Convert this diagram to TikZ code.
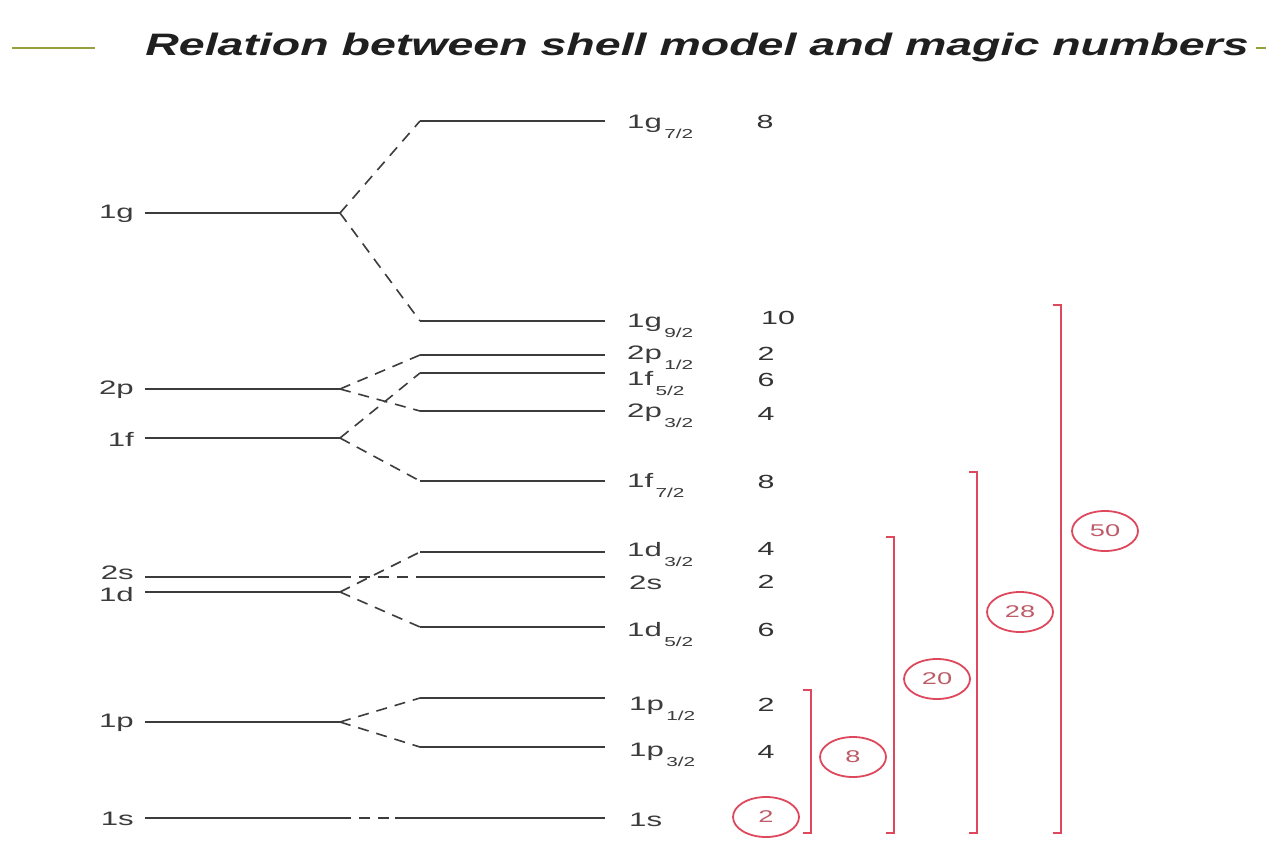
\documentclass[tikz,border=0pt]{standalone}
\usepackage{fontspec}
\setmainfont{Liberation Sans}
\usetikzlibrary{shapes.geometric}
\definecolor{lvl}{RGB}{60,60,60}
\definecolor{mag}{RGB}{222,72,92}
\definecolor{olv}{RGB}{150,160,60}
\newcommand{\wide}[1]{\scalebox{1.6}[1]{#1}}
\newcommand{\sublab}[2]{\wide{#1\hspace{1.5pt}\raisebox{-10pt}{\fontsize{13}{13}\selectfont #2}}}
\begin{document}
\begin{tikzpicture}[x=1pt,y=-1pt,
  level/.style={draw=lvl,line width=1.8pt},
  split/.style={draw=lvl,line width=1.6pt,dash pattern=on 11pt off 8pt},
  lab/.style={font=\fontsize{19.5}{19.5}\selectfont,text=lvl,inner sep=0pt},
  deg/.style={font=\fontsize{19}{19}\selectfont,text=black!80,inner sep=0pt},
  brk/.style={draw=mag,line width=2pt},
  magic/.style={draw=mag,line width=1.8pt,ellipse,minimum width=66pt,minimum height=40pt,inner sep=0pt,text=mag!65!gray,font=\fontsize{17}{17}\selectfont}]
\useasboundingbox (0,0) rectangle (1266,841);
\fill[white] (0,0) rectangle (1266,841);
% title
\node[inner sep=0pt,anchor=base,font=\fontsize{31}{31}\bfseries\itshape\selectfont,text=black!88] (title) at (697,55) {\scalebox{1.5}[1]{Relation between shell model and magic numbers}};
\coordinate (ga) at (12,48); \coordinate (gb) at (95,48);
\draw[olv,line width=2pt] (ga) -- (gb);
\coordinate (gc) at (1256,48); \coordinate (gd) at (1266,48);
\draw[olv,line width=2pt] (gc) -- (gd);
% left levels
\foreach \n/\y in {1g/213,2p/389,1f/438,2s/577,1d/592,1p/722,1s/818}{
  \coordinate (L\n a) at (145,\y);
  \coordinate (L\n b) at (340,\y);
  \draw[level] (L\n a) -- (L\n b);
}
\node[lab,anchor=east] (t1g) at (134,214) {\wide{1g}};
\node[lab,anchor=east] (t2p) at (134,390) {\wide{2p}};
\node[lab,anchor=east] (t1f) at (134,439) {\wide{1f}};
\node[lab,anchor=east] (t2s) at (134,573) {\wide{2s}};
\node[lab,anchor=east] (t1d) at (134,595) {\wide{1d}};
\node[lab,anchor=east] (t1p) at (134,723) {\wide{1p}};
\node[lab,anchor=east] (t1s) at (134,819) {\wide{1s}};
% right levels
\foreach \n/\y in {g7/121,g9/321,p21/355,f5/373,p23/411,f7/481,d3/552,s2/577,d5/627,p1/698,p3/747}{
  \coordinate (R\n a) at (420,\y);
  \coordinate (R\n b) at (605,\y);
  \draw[level] (R\n a) -- (R\n b);
}
\coordinate (Rs1a) at (395,818); \coordinate (Rs1b) at (605,818);
\draw[level] (Rs1a) -- (Rs1b);
% splitting connectors
\draw[split] (L1gb) -- (Rg7a);
\draw[split] (L1gb) -- (Rg9a);
\draw[split] (L2pb) -- (Rp21a);
\draw[split] (L2pb) -- (Rp23a);
\draw[split] (L1fb) -- (Rf5a);
\draw[split] (L1fb) -- (Rf7a);
\draw[split] (L1db) -- (Rd3a);
\draw[split] (L1db) -- (Rd5a);
\draw[split] (L2sb) -- (Rs2a);
\draw[split] (L1pb) -- (Rp1a);
\draw[split] (L1pb) -- (Rp3a);
\draw[split] (L1sb) -- (Rs1a);
% right labels
\node[lab,anchor=base west] (r1) at (627,128) {\sublab{1g}{7/2}};
\node[lab,anchor=base west] (r2) at (627,327) {\sublab{1g}{9/2}};
\node[lab,anchor=base west] (r3) at (627,359) {\sublab{2p}{1/2}};
\node[lab,anchor=base west] (r4) at (627,385) {\sublab{1f}{5/2}};
\node[lab,anchor=base west] (r5) at (627,417) {\sublab{2p}{3/2}};
\node[lab,anchor=base west] (r6) at (627,487) {\sublab{1f}{7/2}};
\node[lab,anchor=base west] (r7) at (627,556) {\sublab{1d}{3/2}};
\node[lab,anchor=base west] (r8) at (629,589) {\wide{2s}};
\node[lab,anchor=base west] (r9) at (627,636) {\sublab{1d}{5/2}};
\node[lab,anchor=base west] (r10) at (629,710) {\sublab{1p}{1/2}};
\node[lab,anchor=base west] (r11) at (629,756) {\sublab{1p}{3/2}};
\node[lab,anchor=base west] (r12) at (629,826) {\wide{1s}};
% degeneracies
\node[deg] (d1) at (765,122) {\wide{8}};
\node[deg] (d2) at (778,318) {\wide{10}};
\node[deg] (d3) at (766,354) {\wide{2}};
\node[deg] (d4) at (766,380) {\wide{6}};
\node[deg] (d5) at (766,414) {\wide{4}};
\node[deg] (d6) at (766,482) {\wide{8}};
\node[deg] (d7) at (766,549) {\wide{4}};
\node[deg] (d8) at (766,582) {\wide{2}};
\node[deg] (d9) at (766,630) {\wide{6}};
\node[deg] (d10) at (766,705) {\wide{2}};
\node[deg] (d11) at (766,752) {\wide{4}};
% brackets
\foreach \k/\x/\t in {a/811/690,b/894/537,c/977/472,d/1061/305}{
  \coordinate (B\k1) at (\x-8,\t);
  \coordinate (B\k2) at (\x,\t);
  \coordinate (B\k3) at (\x,833);
  \coordinate (B\k4) at (\x-8,833);
  \draw[brk] (B\k1) -- (B\k2) -- (B\k3) -- (B\k4);
}
% magic numbers
\node[magic] (m2) at (766,817) {\wide{2}};
\node[magic] (m8) at (853,757) {\wide{8}};
\node[magic] (m20) at (937,679) {\wide{20}};
\node[magic] (m28) at (1020,612) {\wide{28}};
\node[magic] (m50) at (1105,531) {\wide{50}};
\end{tikzpicture}
\end{document}
